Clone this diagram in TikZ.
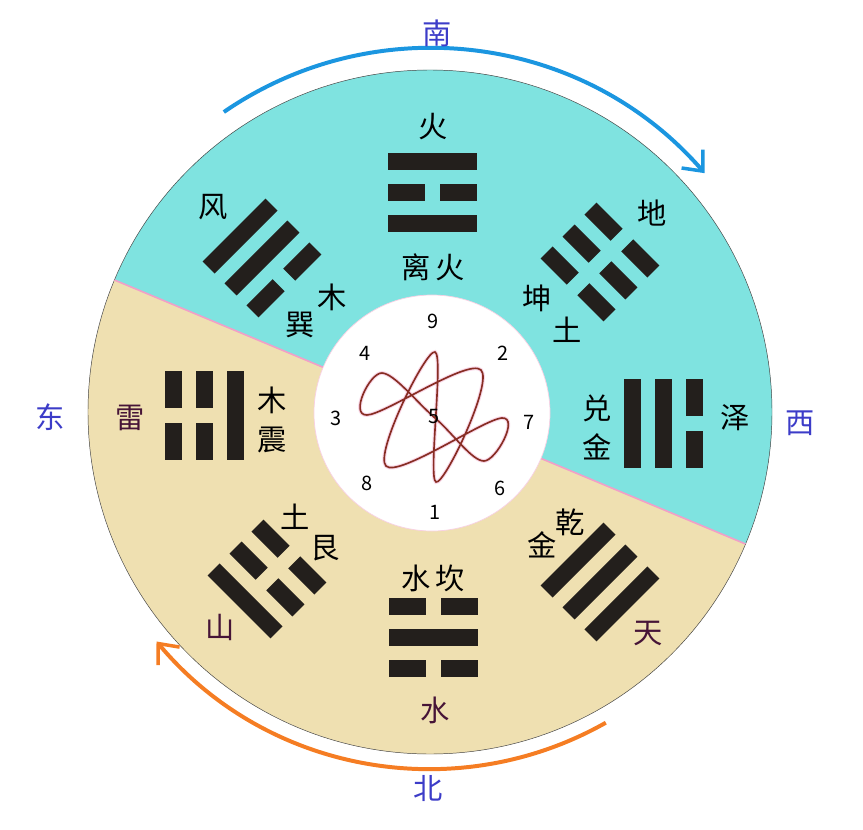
\documentclass[tikz,border=0pt]{standalone}
\usepackage{fontspec}
\usepackage{xcolor}
\usepackage{tikz}
\usetikzlibrary{arrows.meta}
\newfontfamily\hanzi{Noto Sans CJK SC}
\definecolor{qingse}{RGB}{127,227,224}
\definecolor{tuse}{RGB}{239,224,177}
\definecolor{yaose}{RGB}{35,31,28}
\definecolor{fangse}{RGB}{60,60,200}
\definecolor{nanlan}{RGB}{27,150,224}
\definecolor{beicheng}{RGB}{245,125,35}
\definecolor{xianse}{RGB}{135,45,35}
\definecolor{fenhong}{RGB}{240,160,200}
\definecolor{hongzi}{RGB}{70,20,55}
\tikzset{
    yang/.pic={\fill[yaose] (-44.5,-8.5) rectangle (44.5,8.5);},
    yin/.pic={\fill[yaose] (-44.5,-8.5) rectangle (-7.5,8.5); \fill[yaose] (7.5,-8.5) rectangle (44.5,8.5);}
}

\begin{document}
\begin{tikzpicture}[x=0.3mm, y=0.3mm,
        zi/.style={font=\hanzi\fontsize{25}{25}\selectfont, black},
        hong/.style={font=\hanzi\fontsize{25}{25}\selectfont, hongzi},
        fang/.style={font=\hanzi\fontsize{25}{25}\selectfont, fangse},
        shu/.style={font=\hanzi\fontsize{17}{17}\selectfont, black}]
        \useasboundingbox (-430,-417) rectangle (433,412);

        \fill[qingse] (0,0) -- (-22.7:342) arc (-22.7:157.3:342) -- cycle;
        \fill[tuse] (0,0) -- (157.3:342) arc (157.3:337.3:342) -- cycle;
        \draw[black!75, line width=0.4pt] (0,0) circle (342);
        \draw[fenhong, line width=1.4pt] (157.3:342) -- (-22.7:342);
        \fill[white] (2,-1) circle (118);
        \draw[fenhong!50, line width=0.6pt] (2,-1) circle (118);

        \draw[nanlan, line width=3.4pt, -{Straight Barb[length=14pt, width=24pt, line width=3pt]}] (124.5:364) arc (124.5:41:364);
        \draw[beicheng, line width=3.4pt, -{Straight Barb[length=14pt, width=24pt, line width=3pt]}] (-60.5:357) arc (-60.5:-140:357);

        \draw[fenhong!70, line width=3.2pt, opacity=0.6] plot[smooth cycle, tension=0.65] coordinates {(6,-70) (51,42) (-63,-3) (-48,39) (5,-6) (54,-49) (72,-6) (-44,-54) (5,60)};
        \draw[xianse, line width=1.4pt] plot[smooth cycle, tension=0.65] coordinates {(6,-70) (51,42) (-63,-3) (-48,39) (5,-6) (54,-49) (72,-6) (-44,-54) (5,60)};

        \begin{scope}[shift={(2.5,219.5)}, rotate=0, transform shape]
            \pic at (0,-31) {yang};
            \pic at (0,0) {yin};
            \pic at (0,31) {yang};
        \end{scope}

        \begin{scope}[shift={(3,-225)}, rotate=180, transform shape]
            \pic at (0,-31) {yin};
            \pic at (0,0) {yang};
            \pic at (0,31) {yin};
        \end{scope}

        \begin{scope}[shift={(-225,-3)}, rotate=90, transform shape]
            \pic at (0,-31) {yang};
            \pic at (0,0) {yin};
            \pic at (0,31) {yin};
        \end{scope}

        \begin{scope}[shift={(233,-11)}, rotate=-90, transform shape]
            \pic at (0,-31) {yang};
            \pic at (0,0) {yang};
            \pic at (0,31) {yin};
        \end{scope}

        \begin{scope}[shift={(-168,154)}, rotate=45, transform shape]
            \pic at (0,-31) {yin};
            \pic at (0,0) {yang};
            \pic at (0,31) {yang};
        \end{scope}

        \begin{scope}[shift={(170,150)}, rotate=-45, transform shape]
            \pic at (0,-31) {yin};
            \pic at (0,0) {yin};
            \pic at (0,31) {yin};
        \end{scope}

        \begin{scope}[shift={(-163,-167)}, rotate=135, transform shape]
            \pic at (0,-31) {yin};
            \pic at (0,0) {yin};
            \pic at (0,31) {yang};
        \end{scope}

        \begin{scope}[shift={(170,-170)}, rotate=-135, transform shape]
            \pic at (0,-31) {yang};
            \pic at (0,0) {yang};
            \pic at (0,31) {yang};
        \end{scope}

        \node (huo) at (3,285) [zi] {火};
        \node (lihuo) at (3,145) [zi] {离\hspace{4pt}火};
        \node (feng) at (-217,205) [zi] {风};
        \node (xunmu) at (-98,115) [zi] {木};
        \node (xun) at (-130,87) [zi] {巽};
        \node (di) at (222,199) [zi] {地};
        \node (kun) at (107,114) [zi] {坤};
        \node (kuntu) at (137,82) [zi] {土};
        \node (lei) at (-300,-6) [hong] {雷};
        \node (zhenmu) at (-158,12) [zi] {木};
        \node (zhen) at (-158,-28) [zi] {震};
        \node (dui) at (167,4) [zi] {兑};
        \node (duijin) at (167,-35) [zi] {金};
        \node (ze) at (305,-6) [zi] {泽};
        \node (gentu) at (-135,-105) [zi] {土};
        \node (gen) at (-105,-136) [zi] {艮};
        \node (shan) at (-210,-215) [hong] {山};
        \node (qian) at (140,-110) [zi] {乾};
        \node (qianjin) at (112,-133) [zi] {金};
        \node (tian) at (218,-221) [hong] {天};
        \node (shuikan) at (3,-166) [zi] {水\hspace{4pt}坎};
        \node (shui) at (5,-298) [hong] {水};

        \node (nan) at (7,379) [fang] {南};
        \node (bei) at (-2,-376) [fang] {北};
        \node (dong) at (-380,-5) [fang] {东};
        \node (xi) at (370,-11) [fang] {西};

        \foreach \n/\x/\y in {9/3/91, 4/-65/59, 2/73/59, 3/-94/-6, 5/4/-5, 7/99/-10, 8/-63/-71, 6/70/-76, 1/5/-100} {
            \node (shu\n) at (\x,\y) [shu] {\n};
        }
    \end{tikzpicture}
\end{document}
